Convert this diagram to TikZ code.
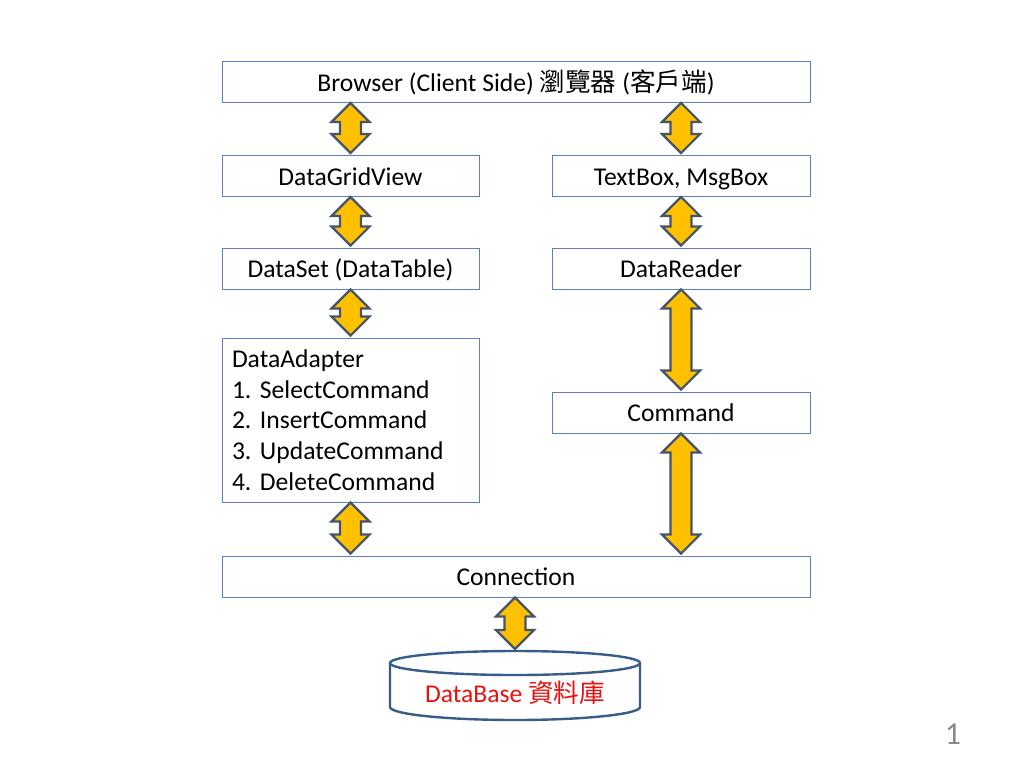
\documentclass[tikz,border=0pt]{standalone}
\usepackage{fontspec}
\setmainfont{Carlito}
\newfontfamily\cjk{Noto Sans CJK TC}
\usetikzlibrary{calc}
\definecolor{boxblue}{HTML}{5B7FC0}
\definecolor{arrowgold}{HTML}{FFC000}
\definecolor{arrowline}{HTML}{44546A}
\definecolor{dbline}{HTML}{385D8A}
\definecolor{dbred}{HTML}{E81010}
\definecolor{pagegray}{HTML}{898989}
\newcommand{\slidefont}{\fontsize{25.6}{30.7}\selectfont}
\tikzset{
  layer/.style={draw=boxblue, line width=0.9pt, fill=white, inner sep=0pt,
                minimum height=41pt, font=\slidefont},
  row/.style={layer, text height=18pt, text depth=0pt},
  duplex/.style={draw=arrowline, fill=arrowgold, line width=2.2pt, line join=miter}
}
% double block arrow: top node, bottom node, node that gives the column
\newcommand{\updown}[3]{%
  \draw[duplex] let \p1=(#1.south -| #3), \p2=(#2.north -| #3) in
    (\x1,\y1) -- ++(19pt,-19pt) -- ++(-8.5pt,0) -- (\x1+10.5pt,\y2+21pt)
    -- ++(8.5pt,0) -- (\x1,\y2+2pt) -- ++(-19pt,19pt) -- ++(8.5pt,0)
    -- (\x1-10.5pt,\y1-19pt) -- ++(-8.5pt,0) -- cycle;}

\begin{document}
\begin{tikzpicture}[x=1pt,y=-1pt]
  \useasboundingbox[fill=white] (0,0) rectangle (1024,768);

  % boxes
  \node[row, minimum width=588pt] (browser) at (516,82)
    {Browser (Client Side) {\cjk 瀏覽器} ({\cjk 客戶端})};
  \node[row, minimum width=257pt] (grid) at (350.5,176) {DataGridView};
  \node[row, minimum width=258pt] (textbox) at (681,176) {TextBox, MsgBox};
  \node[row, minimum width=257pt] (dataset) at (350.5,268.5) {DataSet (DataTable)};
  \node[row, minimum width=258pt] (reader) at (681,268.5) {DataReader};
  \node[layer, minimum width=257pt, minimum height=164pt, text width=237pt,
        align=left] (adapter) at (350.5,420)
    {DataAdapter\\1.\ SelectCommand\\2.\ InsertCommand\\3.\ UpdateCommand\\4.\ DeleteCommand};
  \node[row, minimum width=258pt] (command) at (681,412.5) {Command};
  \node[row, minimum width=588pt] (connection) at (516,576.5) {Connection};

  % database
  \draw[dbline, line width=2.4pt, fill=white]
    (390,663) -- (390,707) arc[start angle=180, end angle=0, x radius=125, y radius=13]
    -- (640,663);
  \draw[dbline, line width=2.4pt] (515,663) ellipse[x radius=125, y radius=12];
  \node[inner sep=0pt, minimum width=250pt, minimum height=24pt, font=\slidefont,
        text=dbred] (db) at (515,693) {DataBase {\cjk 資料庫}};
  \coordinate (dbtop) at (515,651);

  % arrows
  \updown{browser}{grid}{grid}
  \updown{browser}{textbox}{textbox}
  \updown{grid}{dataset}{dataset}
  \updown{textbox}{reader}{reader}
  \updown{dataset}{adapter}{adapter}
  \updown{reader}{command}{command}
  \updown{adapter}{connection}{adapter}
  \updown{command}{connection}{command}
  \updown{connection}{dbtop}{dbtop}

  \node[font=\fontsize{32}{36}\selectfont, text=pagegray] (page) at (953,734) {1};
\end{tikzpicture}
\end{document}
